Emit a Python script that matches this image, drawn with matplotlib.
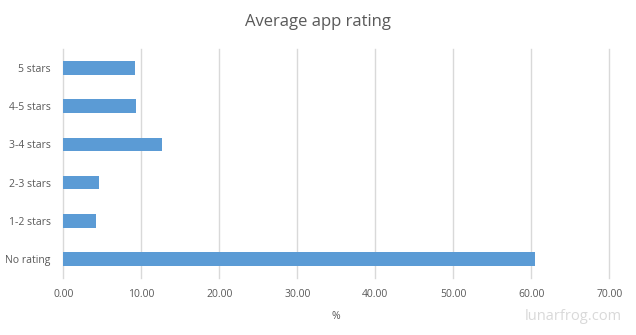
import matplotlib
matplotlib.use("Agg")
import matplotlib.pyplot as plt

categories = ["5 stars", "4-5 stars", "3-4 stars", "2-3 stars", "1-2 stars", "No rating"]
values = [9.19, 9.32, 12.65, 4.58, 4.19, 60.47]
xticks = [0, 10, 20, 30, 40, 50, 60, 70]

plt.rcParams['font.family'] = ['Open Sans', 'DejaVu Sans']
fig = plt.figure(figsize=(6.36, 3.35), dpi=100)
ax = fig.add_axes([63.3/636, 1-278/335, (609.3-63.3)/636, (278-49)/335])

ypos = list(range(len(categories)))
ax.barh(ypos, values, height=0.36, color="#5b9bd5", zorder=3)
ax.set_yticks(ypos)
ax.set_yticklabels(categories)
ax.set_ylim(len(categories) - 0.5, -0.5)
ax.set_xlim(0, 70)
ax.set_xticks(xticks)
ax.set_xticklabels([f"{t:.2f}" for t in xticks])
ax.grid(axis="x", color="#d9d9d9", linewidth=1, zorder=0)
for line in ax.get_xgridlines():
    line.set_clip_on(False)
for s in ax.spines.values():
    s.set_visible(False)
ax.tick_params(length=0, labelsize=7.5, colors="#595959", pad=8)
ax.tick_params(axis="y", pad=9)
ax.set_xlabel("%", fontsize=7.5, color="#595959", labelpad=8)
fig.text(0.5, 1-22/335, "Average app rating", ha="center", va="center", fontsize=12, color="#595959")
fig.text(622/636, 1-316/335, "lunarfrog.com", ha="right", va="center", fontsize=10.5, color="#d9d9d9")
fig.savefig("out.png", dpi=100)
